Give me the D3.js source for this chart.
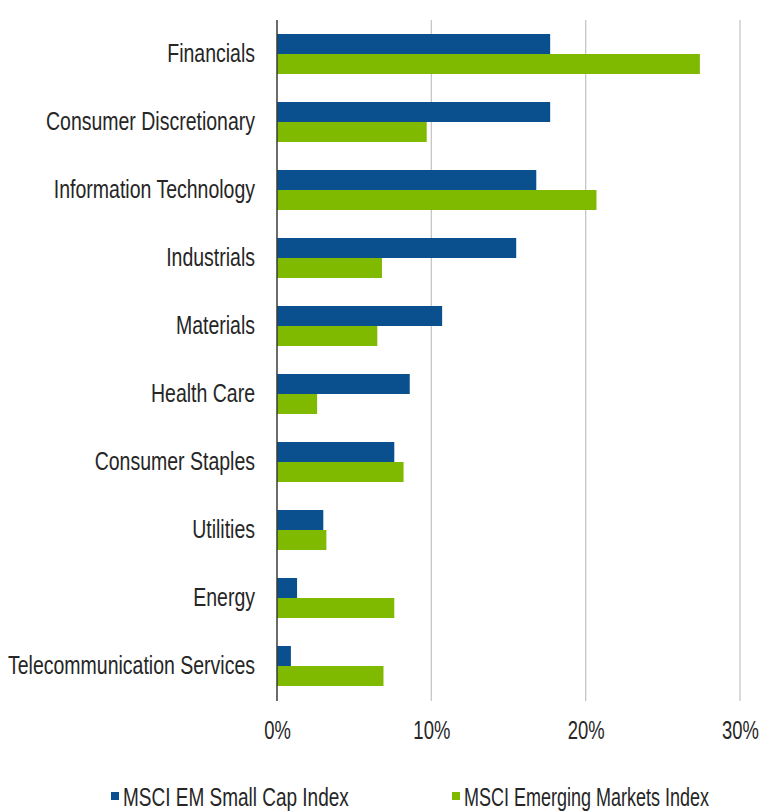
<!DOCTYPE html>
<html>
<head>
<meta charset="utf-8">
<script src="https://cdn.jsdelivr.net/npm/d3@7"></script>
<style>
  body { margin: 0; background: #fff; }
  text { font-family: "Liberation Sans", Arial, sans-serif; fill: #262626; }
</style>
</head>
<body>
<div id="chart"></div>
<script>
// sector weights, %
var categories = [
  'Financials',
  'Consumer Discretionary',
  'Information Technology',
  'Industrials',
  'Materials',
  'Health Care',
  'Consumer Staples',
  'Utilities',
  'Energy',
  'Telecommunication Services'
]
var smallCap = [17.7, 17.7, 16.8, 15.5, 10.7, 8.6, 7.6, 3.0, 1.3, 0.9]
var emerging = [27.4, 9.7, 20.7, 6.8, 6.5, 2.6, 8.2, 3.2, 7.6, 6.9]
var seriesNames = ['MSCI EM Small Cap Index', 'MSCI Emerging Markets Index']
var xTicks = [0, 10, 20, 30]

var colors = ['#0a4f8e', '#7fba00']

var width = 761, height = 811

var svg = d3.select('#chart')
  .append('svg')
  .attr('width', width)
  .attr('height', height)

var x_scale = d3.scaleLinear()
  .domain([0, 30])
  .range([277, 740])

var y_scale = d3.scaleBand()
  .domain(categories)
  .range([20, 700])
  .paddingInner(28 / 68)
  .paddingOuter(14 / 68)

var inner = d3.scaleBand()
  .domain([0, 1])
  .range([0, y_scale.bandwidth()])

// gridlines
svg.append('g')
  .selectAll('line')
  .data(xTicks.slice(1))
  .enter()
  .append('line')
  .attr('x1', function(d) { return x_scale(d) })
  .attr('x2', function(d) { return x_scale(d) })
  .attr('y1', 20)
  .attr('y2', 701)
  .attr('stroke', '#c6c6c6')
  .attr('stroke-width', 1.3)

// bars
var rows = categories.map(function(c, i) {
  return { cat: c, vals: [smallCap[i], emerging[i]] }
})

var groups = svg.append('g')
  .selectAll('g')
  .data(rows)
  .enter()
  .append('g')
  .attr('transform', function(d) { return 'translate(0,' + y_scale(d.cat) + ')' })

groups.selectAll('rect')
  .data(function(d) { return d.vals })
  .enter()
  .append('rect')
  .attr('x', x_scale(0))
  .attr('y', function(d, i) { return inner(i) })
  .attr('width', function(d) { return x_scale(d) - x_scale(0) })
  .attr('height', inner.bandwidth())
  .attr('fill', function(d, i) { return colors[i] })

// y axis (text squeezed sideways, the original uses a narrow font)
var y_axis = d3.axisLeft(y_scale).tickSize(0)
svg.append('g')
  .attr('class', 'axis y-axis')
  .attr('transform', 'translate(' + x_scale(0) + ',0)')
  .call(y_axis)
  .call(function(g) {
    g.select('.domain').remove()
    g.selectAll('text')
      .attr('font-size', 25)
      .attr('fill', '#262626')
      .attr('font-family', null)
      .attr('x', 0)
      .attr('transform', 'translate(-22,0) scale(0.78,1)')
  })

svg.append('line')
  .attr('x1', x_scale(0)).attr('x2', x_scale(0))
  .attr('y1', 20).attr('y2', 701)
  .attr('stroke', '#3a3a3a')
  .attr('stroke-width', 1.5)

// x axis labels
var x_axis = d3.axisBottom(x_scale)
  .tickValues(xTicks)
  .tickFormat(function(d) { return d + '%' })
  .tickSize(0)
  .tickPadding(0)
svg.append('g')
  .attr('class', 'axis x-axis')
  .attr('transform', 'translate(0,721)')
  .call(x_axis)
  .call(function(g) {
    g.select('.domain').remove()
    g.selectAll('text')
      .attr('font-size', 26)
      .attr('fill', '#262626')
      .attr('font-family', null)
      .attr('transform', 'scale(0.71,1)')
  })

// legend
var legendX = [111, 452]
var legend = svg.append('g')
  .selectAll('g')
  .data(seriesNames)
  .enter()
  .append('g')
  .attr('transform', function(d, i) { return 'translate(' + legendX[i] + ',792)' })

legend.append('rect')
  .attr('width', 8)
  .attr('height', 8)
  .attr('fill', function(d, i) { return colors[i] })

legend.append('text')
  .attr('transform', function(d, i) { return 'translate(12,14) scale(' + (i ? 0.72 : 0.76) + ',1)' })
  .attr('font-size', 25)
  .text(function(d) { return d })
</script>
</body>
</html>
